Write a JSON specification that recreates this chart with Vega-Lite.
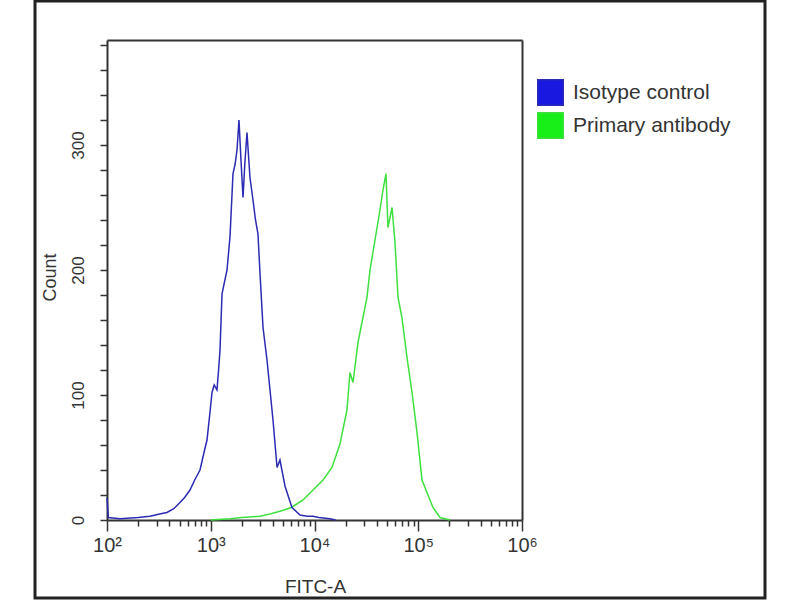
{
  "$schema": "https://vega.github.io/schema/vega-lite/v6.json",
  "autosize": {"type": "none"},
  "padding": {"left": 35, "top": 1, "right": 35, "bottom": 2},
  "width": 730,
  "height": 597,
  "background": "white",
  "config": {
    "view": {"stroke": "#222222", "strokeWidth": 3},
    "font": "Liberation Sans"
  },
  "datasets": {
    "green": [
      {"series": "Primary antibody", "fitc": 1000, "count": 0},
      {"series": "Primary antibody", "fitc": 1534, "count": 1},
      {"series": "Primary antibody", "fitc": 2000, "count": 2},
      {"series": "Primary antibody", "fitc": 2985, "count": 3},
      {"series": "Primary antibody", "fitc": 3800, "count": 5},
      {"series": "Primary antibody", "fitc": 4645, "count": 7},
      {"series": "Primary antibody", "fitc": 6000, "count": 10},
      {"series": "Primary antibody", "fitc": 7745, "count": 16},
      {"series": "Primary antibody", "fitc": 9680, "count": 24},
      {"series": "Primary antibody", "fitc": 12080, "count": 32},
      {"series": "Primary antibody", "fitc": 14750, "count": 42},
      {"series": "Primary antibody", "fitc": 17620, "count": 61},
      {"series": "Primary antibody", "fitc": 20560, "count": 88},
      {"series": "Primary antibody", "fitc": 21980, "count": 118},
      {"series": "Primary antibody", "fitc": 23500, "count": 110},
      {"series": "Primary antibody", "fitc": 26240, "count": 142},
      {"series": "Primary antibody", "fitc": 29310, "count": 162},
      {"series": "Primary antibody", "fitc": 32060, "count": 178},
      {"series": "Primary antibody", "fitc": 34270, "count": 200},
      {"series": "Primary antibody", "fitc": 38290, "count": 224},
      {"series": "Primary antibody", "fitc": 42760, "count": 248},
      {"series": "Primary antibody", "fitc": 45710, "count": 264},
      {"series": "Primary antibody", "fitc": 48870, "count": 277},
      {"series": "Primary antibody", "fitc": 51050, "count": 234},
      {"series": "Primary antibody", "fitc": 55850, "count": 250},
      {"series": "Primary antibody", "fitc": 59700, "count": 222},
      {"series": "Primary antibody", "fitc": 63830, "count": 178},
      {"series": "Primary antibody", "fitc": 69660, "count": 162},
      {"series": "Primary antibody", "fitc": 77930, "count": 130},
      {"series": "Primary antibody", "fitc": 87100, "count": 102},
      {"series": "Primary antibody", "fitc": 97280, "count": 70},
      {"series": "Primary antibody", "fitc": 108700, "count": 32},
      {"series": "Primary antibody", "fitc": 121400, "count": 22},
      {"series": "Primary antibody", "fitc": 138700, "count": 10},
      {"series": "Primary antibody", "fitc": 162200, "count": 2},
      {"series": "Primary antibody", "fitc": 202300, "count": 0}
    ],
    "blue": [
      {"series": "Isotype control", "fitc": 100, "count": 18},
      {"series": "Isotype control", "fitc": 103, "count": 2},
      {"series": "Isotype control", "fitc": 133, "count": 1},
      {"series": "Isotype control", "fitc": 200, "count": 2},
      {"series": "Isotype control", "fitc": 259, "count": 3},
      {"series": "Isotype control", "fitc": 330, "count": 5},
      {"series": "Isotype control", "fitc": 378, "count": 6},
      {"series": "Isotype control", "fitc": 440, "count": 9},
      {"series": "Isotype control", "fitc": 505, "count": 14},
      {"series": "Isotype control", "fitc": 560, "count": 18},
      {"series": "Isotype control", "fitc": 631, "count": 24},
      {"series": "Isotype control", "fitc": 700, "count": 32},
      {"series": "Isotype control", "fitc": 788, "count": 40},
      {"series": "Isotype control", "fitc": 850, "count": 52},
      {"series": "Isotype control", "fitc": 920, "count": 64},
      {"series": "Isotype control", "fitc": 980, "count": 85},
      {"series": "Isotype control", "fitc": 1028, "count": 102},
      {"series": "Isotype control", "fitc": 1080, "count": 108},
      {"series": "Isotype control", "fitc": 1148, "count": 104},
      {"series": "Isotype control", "fitc": 1190, "count": 120},
      {"series": "Isotype control", "fitc": 1228, "count": 136},
      {"series": "Isotype control", "fitc": 1284, "count": 181},
      {"series": "Isotype control", "fitc": 1435, "count": 200},
      {"series": "Isotype control", "fitc": 1534, "count": 227},
      {"series": "Isotype control", "fitc": 1638, "count": 277},
      {"series": "Isotype control", "fitc": 1720, "count": 285},
      {"series": "Isotype control", "fitc": 1791, "count": 296},
      {"series": "Isotype control", "fitc": 1871, "count": 320},
      {"series": "Isotype control", "fitc": 1950, "count": 290},
      {"series": "Isotype control", "fitc": 2046, "count": 258},
      {"series": "Isotype control", "fitc": 2130, "count": 285},
      {"series": "Isotype control", "fitc": 2235, "count": 310},
      {"series": "Isotype control", "fitc": 2388, "count": 274},
      {"series": "Isotype control", "fitc": 2553, "count": 256},
      {"series": "Isotype control", "fitc": 2700, "count": 240},
      {"series": "Isotype control", "fitc": 2851, "count": 229},
      {"series": "Isotype control", "fitc": 2985, "count": 197},
      {"series": "Isotype control", "fitc": 3190, "count": 154},
      {"series": "Isotype control", "fitc": 3485, "count": 128},
      {"series": "Isotype control", "fitc": 3724, "count": 104},
      {"series": "Isotype control", "fitc": 3981, "count": 80},
      {"series": "Isotype control", "fitc": 4355, "count": 42},
      {"series": "Isotype control", "fitc": 4645, "count": 48},
      {"series": "Isotype control", "fitc": 5200, "count": 27},
      {"series": "Isotype control", "fitc": 6067, "count": 10},
      {"series": "Isotype control", "fitc": 7244, "count": 4},
      {"series": "Isotype control", "fitc": 8500, "count": 3},
      {"series": "Isotype control", "fitc": 9680, "count": 3},
      {"series": "Isotype control", "fitc": 11000, "count": 2},
      {"series": "Isotype control", "fitc": 14100, "count": 1},
      {"series": "Isotype control", "fitc": 16000, "count": 0}
    ]
  },
  "resolve": {"axis": {"x": "independent", "y": "independent"}},
  "layer": [
    {
      "data": {"name": "green"},
      "mark": {"type": "line", "strokeWidth": 1.5, "interpolate": "linear"},
      "encoding": {
        "x": {
          "field": "fitc", "type": "quantitative",
          "scale": {"type": "log", "domain": [100, 1000000], "range": [72, 487], "nice": false},
          "axis": {"orient": "top", "offset": -39, "labels": false, "ticks": false, "grid": false, "title": null, "domainColor": "#333333", "domainWidth": 2}
        },
        "y": {
          "field": "count", "type": "quantitative",
          "scale": {"domain": [0, 384], "range": [519, 39], "nice": false, "zero": true},
          "axis": {"orient": "right", "offset": -243, "labels": false, "ticks": false, "grid": false, "title": null, "domainColor": "#333333", "domainWidth": 2}
        },
        "color": {
          "field": "series", "type": "nominal",
          "scale": {"domain": ["Isotype control", "Primary antibody"], "range": ["#2b2bb5", "#3ee03e"]},
          "legend": {
            "orient": "none", "legendX": 502, "legendY": 78, "title": null, "padding": 0,
            "symbolType": "square", "symbolSize": 650, "symbolStrokeWidth": 1.5,
            "labelFontSize": 21, "labelColor": "#333333", "labelFont": "Liberation Sans", "labelOffset": 9,
            "rowPadding": 0,
            "encode": {
              "symbols": {"update": {
                "fill": {"signal": "datum.value == 'Isotype control' ? '#1818e0' : '#18ee18'"},
                "stroke": {"value": "#2a3a2a"},
                "fillOpacity": {"value": 1}
              }}
            }
          }
        }
      }
    },
    {
      "data": {"name": "blue"},
      "mark": {"type": "line", "strokeWidth": 1.5, "interpolate": "linear"},
      "encoding": {
        "x": {
          "field": "fitc", "type": "quantitative",
          "axis": {
            "orient": "bottom", "offset": -78, "grid": false,
            "values": [100,200,300,400,500,600,700,800,900,1000,2000,3000,4000,5000,6000,7000,8000,9000,10000,20000,30000,40000,50000,60000,70000,80000,90000,100000,200000,300000,400000,500000,600000,700000,800000,900000,1000000],
            "labelExpr": "datum.value == 100 ? '10²' : datum.value == 1000 ? '10³' : datum.value == 10000 ? '10⁴' : datum.value == 100000 ? '10⁵' : datum.value == 1000000 ? '10⁶' : ''",
            "labelFontSize": 20, "labelColor": "#333333", "labelPadding": 4, "labelFlush": false, "labelOverlap": false,
            "tickSize": {"condition": {"test": "indexof([100,1000,10000,100000,1000000], datum.value) >= 0", "value": 11}, "value": 6},
            "tickColor": "#333333", "tickWidth": 1.5,
            "domainColor": "#333333", "domainWidth": 2,
            "title": "FITC-A", "titleFontSize": 19, "titleFontWeight": "normal", "titleColor": "#333333",
            "titleX": 280, "titleY": 66, "titleBaseline": "middle", "titleAlign": "center"
          }
        },
        "y": {
          "field": "count", "type": "quantitative",
          "axis": {
            "orient": "left", "offset": -72, "grid": false,
            "values": [0,20,40,60,80,100,120,140,160,180,200,220,240,260,280,300,320,340,360,380],
            "labelExpr": "datum.value % 100 == 0 ? datum.label : ''",
            "labelAngle": 270, "labelAlign": "center", "labelBaseline": "bottom",
            "labelFontSize": 17, "labelColor": "#333333", "labelPadding": 13, "labelOverlap": false, "labelFlush": false,
            "tickSize": 7, "tickColor": "#333333", "tickWidth": 1.5,
            "domainColor": "#333333", "domainWidth": 2,
            "title": "Count", "titleFontSize": 18, "titleFontWeight": "normal", "titleColor": "#333333",
            "titleX": -57, "titleY": 276, "titleBaseline": "middle", "titleAlign": "center", "titleAngle": 270
          }
        },
        "color": {"field": "series", "type": "nominal"}
      }
    }
  ]
}
